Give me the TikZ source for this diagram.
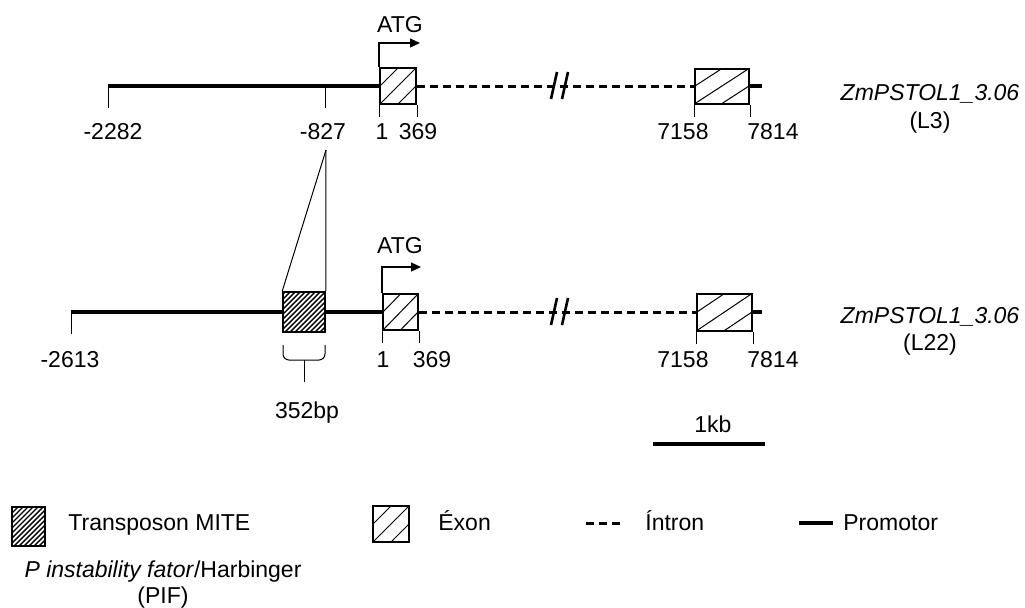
\documentclass[tikz,border=0pt]{standalone}
\usepackage{fontspec}
\setmainfont{Liberation Sans}
\usepackage{tikz}
\usetikzlibrary{
  arrows.meta,
  positioning,
  calc,
}

\tikzset{
  promoter/.style={line width=2pt},
  intron/.style={line width=1.5pt, dash pattern=on 4pt off 2.5pt},
  tickline/.style={line width=0.5pt},
  breakmark/.style={line width=1.3pt},
  scalebar/.style={line width=2pt},
  exonbox/.style={draw, line width=1pt, inner sep=0pt,
    path picture={
      \draw[line width=0.5pt] (path picture bounding box.west) -- (path picture bounding box.north);
      \draw[line width=0.5pt] (path picture bounding box.south west) -- (path picture bounding box.north east);
      \draw[line width=0.5pt] (path picture bounding box.south) -- (path picture bounding box.east);
    }},
  mitebox/.style={draw, line width=0.8pt, inner sep=0pt,
    path picture={
      \foreach \d in {-24,-21.5,...,24}
        \draw[line width=0.7pt] ([xshift=\d pt]path picture bounding box.south west) -- ++(30pt,30pt);
    }},
  atgarrow/.style={line width=0.6pt, -{Triangle[length=5pt,width=4.5pt]}},
}

\begin{document}
\begin{tikzpicture}[x=0.5pt, y=-0.5pt, inner sep=0pt, font=\fontsize{11.5}{14}\selectfont]
\useasboundingbox (0,0) rectangle (1025,607);

% ---- line L3 ----
\coordinate (startA) at (108,86);
\coordinate (m827) at (325,86);
\node[exonbox, minimum width=18pt, minimum height=18pt] (e1a) at (398,86) {};
\node[exonbox, minimum width=27pt, minimum height=17.5pt] (e2a) at (722,86) {};
\coordinate (endA) at (762,86);

\draw[promoter] (startA) -- (e1a.west);
\draw[intron] (e1a.east) -- (e2a.west);
\draw[promoter] (e2a.east) -- (endA);

\draw[tickline] (startA) -- ++(0,22);
\draw[tickline] (m827) -- ++(0,22);
\draw[tickline] (e1a.south west) -- ++(0,12);
\draw[tickline] (e1a.south east) -- ++(0,12);
\draw[tickline] (e2a.south west) -- ++(0,12);
\draw[tickline] (e2a.south east) -- ++(0,12);

\node[anchor=base] (l2282) at (113,139) {-2282};
\node[anchor=base] (l827)  at (323,139) {-827};
\node[anchor=base] (l1a)   at (382,139) {1};
\node[anchor=base] (l369a) at (418,139) {369};
\node[anchor=base] (l7158a) at (683,139) {7158};
\node[anchor=base] (l7814a) at (773,139) {7814};

\draw[atgarrow] (e1a.north west) |- ++(41,-24);
\node[anchor=base] (atgA) at (400,32) {ATG};

\node[anchor=base] (nameA) at (930,100) {\textit{ZmPSTOL1\_3.06}};
\node[anchor=base] (lineA) at (930,128) {(L3)};

% ---- line L22 ----
\coordinate (startB) at (71,312);
\node[mitebox, minimum width=21pt, minimum height=20pt] (mite) at (304,312) {};
\node[exonbox, minimum width=17.5pt, minimum height=18pt] (e1b) at (400.5,312) {};
\node[exonbox, minimum width=27.5pt, minimum height=18.5pt] (e2b) at (724.5,312) {};
\coordinate (endB) at (762,312);

\draw[promoter] (startB) -- (mite.west);
\draw[promoter] (mite.east) -- (e1b.west);
\draw[intron] (e1b.east) -- (e2b.west);
\draw[promoter] (e2b.east) -- (endB);

\draw[tickline] (startB) -- ++(0,22);
\draw[tickline] (e1b.south west) -- ++(0,12);
\draw[tickline] (e1b.south east) -- ++(0,12);
\draw[tickline] (e2b.south west) -- ++(0,12);
\draw[tickline] (e2b.south east) -- ++(0,12);

\node[anchor=base] (l2613) at (70,367) {-2613};
\node[anchor=base] (l1b)   at (383,367) {1};
\node[anchor=base] (l369b) at (432,367) {369};
\node[anchor=base] (l7158b) at (683,367) {7158};
\node[anchor=base] (l7814b) at (773,367) {7814};

\draw[atgarrow] (e1b.north west) |- ++(39,-26);
\node[anchor=base] (atgB) at (400,253) {ATG};

\node[anchor=base] (nameB) at (930,323) {\textit{ZmPSTOL1\_3.06}};
\node[anchor=base] (lineB) at (930,350) {(L22)};

% break marks on the introns
\foreach \y in {86,312}
  \foreach \x in {551,562}
    \draw[breakmark] (\x,\y+13) -- ++(6,-27);

% insertion site
\coordinate (apex) at (326,150);
\draw[tickline] (apex) -- (mite.north west);
\draw[tickline] (apex) -- (mite.north east);

% brace under the MITE
\draw[tickline, rounded corners=3pt] (283,345) -- (283,360) -- (325,360) -- (325,345);
\draw[tickline] (304,360) -- (304,382);
\node[anchor=base] (l352) at (307,418) {352bp};

% scale
\draw[scalebar] (653,444) -- (765,444);
\node[anchor=base] (kb) at (713,432) {1kb};

% ---- legend ----
\node[mitebox, minimum width=16.5pt, minimum height=19.5pt] (legMite) at (28.5,526.5) {};
\node[anchor=base west] (txtMite) at (68,530) {Transposon MITE};
\node[anchor=base] (txtPif) at (163,577) {\textit{P instability fator}/Harbinger};
\node[anchor=base] (txtPifB) at (163,603) {(PIF)};

\node[exonbox, minimum width=18pt, minimum height=18pt] (legExon) at (391,524) {};
\node[anchor=base west] (txtExon) at (438,530) {Éxon};

\draw[intron] (586,523) -- (620,523);
\node[anchor=base west] (txtIntron) at (645,530) {Íntron};

\draw[promoter] (799,523) -- (833,523);
\node[anchor=base west] (txtProm) at (843,530) {Promotor};

\end{tikzpicture}
\end{document}
